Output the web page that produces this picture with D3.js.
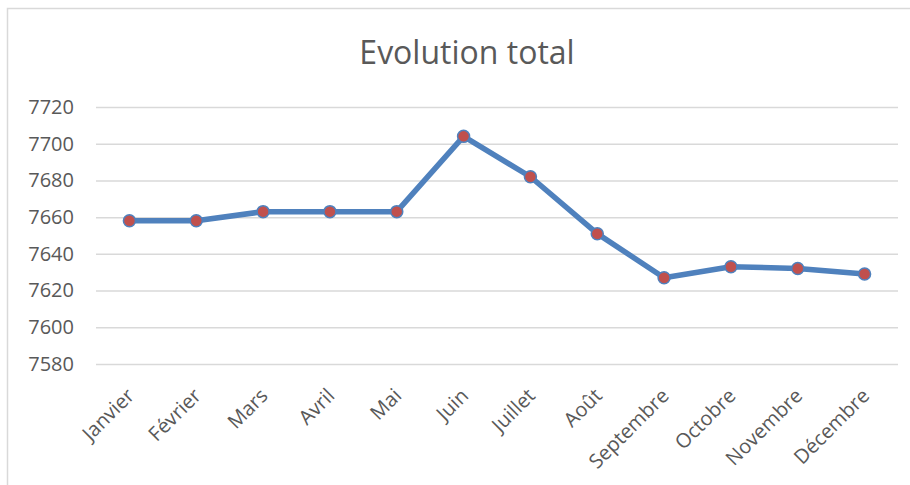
<!DOCTYPE html>
<html>
<head>
<meta charset="utf-8">
<script src="https://cdn.jsdelivr.net/npm/d3@7"></script>
<style>
  body { margin: 0; background: #fff; }
  svg { display: block; font-family: "Open Sans", sans-serif; }
</style>
</head>
<body>
<script>
// line chart: monthly totals
var months = ['Janvier', 'Février', 'Mars', 'Avril', 'Mai', 'Juin',
              'Juillet', 'Août', 'Septembre', 'Octobre', 'Novembre', 'Décembre']
var totals = [7658, 7658, 7663, 7663, 7663, 7704, 7682, 7651, 7627, 7633, 7632, 7629]
var yTicks = [7580, 7600, 7620, 7640, 7660, 7680, 7700, 7720]
var title = 'Evolution total'

var W = 910
var H = 485
var margin = { top: 107, right: 12, bottom: 121, left: 96 }
var width = 898 - margin.left
var height = 364 - margin.top

var svg = d3.select('body').append('svg')
  .attr('width', W)
  .attr('height', H)

// chart frame
svg.append('rect')
  .attr('x', 7.5).attr('y', 8.5)
  .attr('width', W).attr('height', H)
  .attr('fill', 'none')
  .attr('stroke', '#d9d9d9')
  .attr('stroke-width', 1.5)

svg.append('text')
  .attr('x', 467)
  .attr('y', 64)
  .attr('text-anchor', 'middle')
  .attr('fill', '#595959')
  .style('font-size', '32px')
  .text(title)

var x = d3.scaleBand().domain(months).range([0, width])
var y = d3.scaleLinear().domain([7580, 7720]).range([height, 0])

var main = svg.append('g')
  .attr('transform', 'translate(' + margin.left + ',' + margin.top + ')')

// gridlines
main.append('g')
  .call(d3.axisLeft(y).tickValues(yTicks).tickSize(-width).tickFormat(''))
  .call(g => g.select('.domain').remove())
  .selectAll('line')
  .attr('stroke', '#d9d9d9')
  .attr('stroke-width', 1.5)

// y labels
main.append('g')
  .call(d3.axisLeft(y).tickValues(yTicks).tickSize(0).tickPadding(22).tickFormat(d3.format('d')))
  .call(g => g.select('.domain').remove())
  .selectAll('text')
  .attr('fill', '#595959')
  .style('font-family', '"Open Sans", sans-serif')
  .style('font-size', '20px')

// x labels
var xAxis = main.append('g')
  .attr('transform', 'translate(0,' + height + ')')
  .call(d3.axisBottom(x).tickSize(0).tickPadding(0))
xAxis.select('.domain').remove()
xAxis.selectAll('text')
  .attr('fill', '#595959')
  .style('font-family', '"Open Sans", sans-serif')
  .style('font-size', '20px')
  .attr('text-anchor', 'end')
  .attr('dy', 0)
  .attr('transform', 'translate(6,33) rotate(-45)')

var line = d3.line()
  .x((d, i) => x(months[i]) + x.bandwidth() / 2)
  .y(d => y(d))

main.append('path')
  .datum(totals)
  .attr('d', line)
  .attr('fill', 'none')
  .attr('stroke', '#4f81bd')
  .attr('stroke-width', 5.5)
  .attr('stroke-linejoin', 'round')
  .attr('stroke-linecap', 'round')

main.selectAll('circle.pt')
  .data(totals)
  .enter()
  .append('circle')
  .attr('class', 'pt')
  .attr('cx', (d, i) => x(months[i]) + x.bandwidth() / 2)
  .attr('cy', d => y(d))
  .attr('r', 6)
  .attr('fill', '#c0504d')
  .attr('stroke', '#4f81bd')
  .attr('stroke-width', 1.5)
</script>
</body>
</html>
